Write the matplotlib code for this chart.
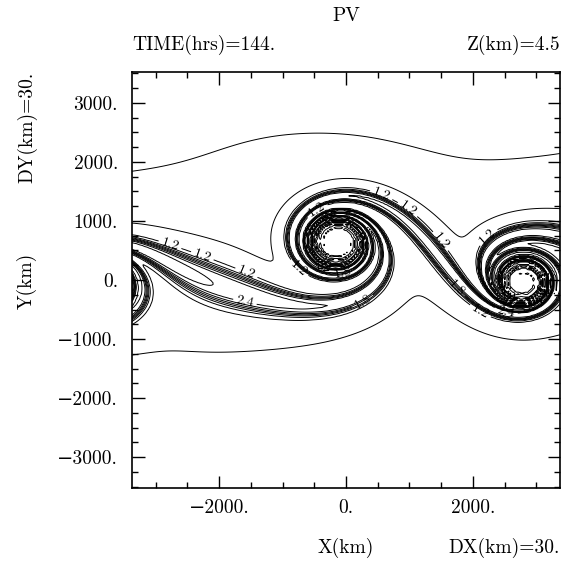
import numpy as np
import matplotlib.pyplot as plt
from matplotlib.ticker import MultipleLocator

plt.rcParams["font.family"] = ["cmr10", "DejaVu Serif"]
plt.rcParams["axes.formatter.use_mathtext"] = True

# -- model grid (30 km spacing) --
DX_KM = 30.0
X_EDGE = [-3375.0, 3375.0]
Y_EDGE = [-3525.0, 3525.0]

# rolled-up vortices (centre, core spin, core radius)
VORTEX_X = [-150.0, 2800.0]
VORTEX_Y = [650.0, -50.0]
VORTEX_SPIN = [24.0, 25.0]
VORTEX_CORE = [255.0, 205.0]

# initial PV strip
STRIP_MEAN = 262.0
STRIP_AMP = 388.0
STRIP_HALFWIDTH = 330.0
EDGE_WIDTH = 110.0
PV_FAR = [0.70, 0.90]          # above / below the strip
PV_SHOULDER = 1.22
SHOULDER_SCALE = [1000.0, 700.0]
PV_JUMP = [1.08, 1.5]          # strip excess near vortex A / vortex B

LEVELS = [round(v, 1) for v in np.arange(0.8, 2.65, 0.2)]
LABEL_LEVELS = [1.2, 1.8, 2.4]
LABEL_SPOTS = [(-2700, 815), (-2255, 440), (-1560, 150), (-1590, -355),
               (-450, 1170), (-850, 70), (-50, 70), (250, -330),
               (720, 1880), (1100, 1375), (1580, 740), (1720, -150),
               (1950, -830), (2240, 730), (2380, -30), (2520, -540),
               (3120, -270)]

YTICKS = [-3000, -2000, -1000, 0, 1000, 2000, 3000]
XTICKS = [-2000, 0, 2000]

# -- PV field: strip advected backwards through the vortex flow --
x = np.arange(X_EDGE[0], X_EDGE[1] + 1, DX_KM)
y = np.arange(Y_EDGE[0], Y_EDGE[1] + 1, DX_KM)
X, Y = np.meshgrid(x, y)
period = X_EDGE[1] - X_EDGE[0]


def velocity(px, py):
    u = np.zeros_like(px)
    v = np.zeros_like(py)
    for xc, yc, spin, core in zip(VORTEX_X, VORTEX_Y, VORTEX_SPIN, VORTEX_CORE):
        for m in range(-2, 3):
            dx = px - (xc + m * period)
            dy = py - yc
            r2 = dx * dx + dy * dy + 1e-6
            om = spin * core ** 2 / r2 * (1.0 - np.exp(-r2 / core ** 2))
            u -= om * dy
            v += om * dx
    return u, v


nstep = 300
dt = -1.0 / nstep
px, py = X.copy(), Y.copy()
for _ in range(nstep):
    k1u, k1v = velocity(px, py)
    k2u, k2v = velocity(px + 0.5 * dt * k1u, py + 0.5 * dt * k1v)
    k3u, k3v = velocity(px + 0.5 * dt * k2u, py + 0.5 * dt * k2v)
    k4u, k4v = velocity(px + dt * k3u, py + dt * k3v)
    px += dt * (k1u + 2 * k2u + 2 * k3u + k4u) / 6
    py += dt * (k1v + 2 * k2v + 2 * k3v + k4v) / 6

phase = 2 * np.pi * (px - VORTEX_X[0]) / period
d = py - (STRIP_MEAN + STRIP_AMP * np.cos(phase))
s = np.maximum(np.abs(d) - STRIP_HALFWIDTH, 0.0)
outer = np.where(
    d > 0,
    PV_FAR[0] + (PV_SHOULDER - PV_FAR[0]) * np.exp(-s / SHOULDER_SCALE[0]),
    PV_FAR[1] + (PV_SHOULDER - PV_FAR[1]) * np.exp(-s / SHOULDER_SCALE[1]),
)
jmid = 0.5 * (PV_JUMP[0] + PV_JUMP[1])
jhalf = 0.5 * (PV_JUMP[0] - PV_JUMP[1])
jump = jmid + jhalf * np.cos(phase)
pv = outer + jump * 0.5 * (1 - np.tanh((np.abs(d) - STRIP_HALFWIDTH) / EDGE_WIDTH))

# -- figure --
fig = plt.figure(figsize=(5.63, 5.61), dpi=100)
ax = fig.add_axes([132 / 563, 73 / 561, 428 / 563, 416 / 561])

plain = [v for v in LEVELS if v not in LABEL_LEVELS]
ax.contour(x, y, pv, levels=plain, colors="black", linewidths=0.7)
cs = ax.contour(x, y, pv, levels=LABEL_LEVELS, colors="black", linewidths=0.7)
ax.clabel(cs, inline=True, inline_spacing=3, fmt="%.1f", fontsize=10,
          manual=LABEL_SPOTS)

ax.set_xlim(X_EDGE)
ax.set_ylim(Y_EDGE)
ax.set_xticks(XTICKS)
ax.set_xticklabels([f"{v}.".replace("-", "\u2212") for v in XTICKS])
ax.set_yticks(YTICKS)
ax.set_yticklabels([f"{v}.".replace("-", "\u2212") for v in YTICKS])
ax.xaxis.set_minor_locator(MultipleLocator(500))
ax.yaxis.set_minor_locator(MultipleLocator(250))
ax.tick_params(which="both", direction="in", top=True, right=True,
               labelsize=14, width=1.0)
ax.tick_params(which="major", length=9)
ax.tick_params(which="minor", length=4.5)
ax.tick_params(axis="x", pad=8)
ax.tick_params(axis="y", pad=10)
for sp in ax.spines.values():
    sp.set_linewidth(1.2)

fig.text(346 / 563, 1 - 16 / 561, "PV", ha="center", va="center", fontsize=14)
fig.text(132 / 563, 1 - 45 / 561, "TIME(hrs)=144.", ha="left", va="center", fontsize=14)
fig.text(560 / 563, 1 - 45 / 561, "Z(km)=4.5", ha="right", va="center", fontsize=14)
fig.text(346 / 563, 1 - 548 / 561, "X(km)", ha="center", va="center", fontsize=14)
fig.text(560 / 563, 1 - 548 / 561, "DX(km)=30.", ha="right", va="center", fontsize=14)
fig.text(27 / 563, 1 - 281 / 561, "Y(km)", rotation=90, ha="center", va="center", fontsize=14)
fig.text(27 / 563, 1 - 72 / 561, "DY(km)=30.", rotation=90, ha="center", va="top", fontsize=14)

fig.savefig("out.png", dpi=100)
